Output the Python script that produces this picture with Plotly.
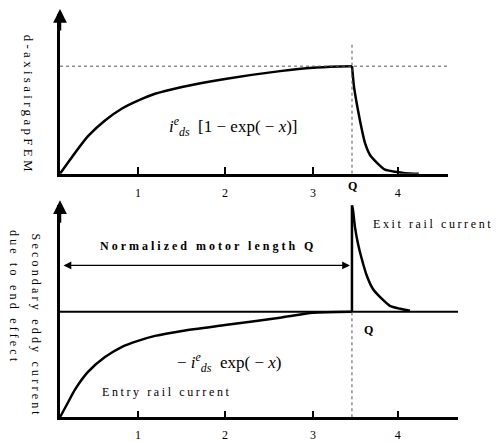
import plotly.graph_objects as go

# The page body adds an 8px margin, so the figure is drawn 8px in from the top-left corner.
OFF = 8
W, H = 504 - OFF, 442 - OFF
FONT = "Liberation Serif"

# ---- data (x in motor-length units, y normalised) ----
Q_POS = 3.337
TICK_X = [0.891, 1.886, 2.891, 3.86]
TICK_TEXT = ["1", "2", "3", "4"]

TOP_RISE_X = [0, 0.171, 0.32, 0.514, 0.709, 0.891, 1.086, 1.394, 1.886, 2.514, 2.891, 3.2, 3.337]
TOP_RISE_Y = [0, 0.193, 0.349, 0.495, 0.606, 0.679, 0.743, 0.807, 0.881, 0.954, 0.986, 0.997, 1.0]

TOP_DECAY_X = [3.337, 3.36, 3.406, 3.451, 3.486, 3.543, 3.623, 3.714, 3.829, 3.943, 4.1]
TOP_DECAY_Y = [1.0, 0.807, 0.587, 0.404, 0.284, 0.174, 0.101, 0.037, 0.018, 0.005, 0.0]

PEAK_LEVEL = 1.0

BOT_ENTRY_X = [0, 0.091, 0.171, 0.32, 0.514, 0.709, 0.891, 1.086, 1.394, 1.886, 2.514, 2.891, 3.337]
BOT_ENTRY_Y = [-1.0, -0.86, -0.738, -0.57, -0.43, -0.332, -0.276, -0.229, -0.182, -0.126, -0.056, -0.009, 0.0]

BOT_EXIT_X = [3.337, 3.349, 3.371, 3.406, 3.451, 3.509, 3.577, 3.68, 3.771, 3.886, 4.0]
BOT_EXIT_Y = [1.009, 0.963, 0.804, 0.645, 0.495, 0.336, 0.215, 0.121, 0.056, 0.028, 0.009]


def px(x):
    return (x - OFF) / W


def py(y):
    return 1 - (y - OFF) / H


fig = go.Figure()

line_k = dict(color="black", width=2.5)
curve_k = dict(color="black", width=2.5, shape="spline", smoothing=0.6)
dot = dict(color="#555555", width=1, dash="dot")

# top panel
fig.add_trace(go.Scatter(x=TOP_RISE_X, y=TOP_RISE_Y, mode="lines", line=curve_k, xaxis="x", yaxis="y"))
fig.add_trace(go.Scatter(x=TOP_DECAY_X, y=TOP_DECAY_Y, mode="lines", line=curve_k, xaxis="x", yaxis="y"))
fig.add_trace(go.Scatter(x=[0, 4.434], y=[PEAK_LEVEL, PEAK_LEVEL], mode="lines", line=dot, xaxis="x", yaxis="y"))
fig.add_trace(go.Scatter(x=[Q_POS, Q_POS], y=[0, 1.22], mode="lines", line=dot, xaxis="x", yaxis="y"))

# bottom panel
fig.add_trace(go.Scatter(x=[0, 4.549], y=[0, 0], mode="lines", line=dict(color="black", width=2), xaxis="x2", yaxis="y2"))
fig.add_trace(go.Scatter(x=BOT_ENTRY_X, y=BOT_ENTRY_Y, mode="lines", line=curve_k, xaxis="x2", yaxis="y2"))
fig.add_trace(go.Scatter(x=[Q_POS, Q_POS], y=[0, BOT_EXIT_Y[0]], mode="lines", line=line_k, xaxis="x2", yaxis="y2"))
fig.add_trace(go.Scatter(x=BOT_EXIT_X, y=BOT_EXIT_Y, mode="lines", line=curve_k, xaxis="x2", yaxis="y2"))
fig.add_trace(go.Scatter(x=[Q_POS, Q_POS], y=[-1, 0], mode="lines", line=dot, xaxis="x2", yaxis="y2"))

axis_common = dict(showgrid=False, zeroline=False, showline=True, linecolor="black", linewidth=2.5)
xtick = dict(tickmode="array", tickvals=TICK_X, ticktext=TICK_TEXT, ticks="inside", ticklen=7,
             tickwidth=1.5, tickcolor="black", tickfont=dict(family=FONT, size=12, color="black"))

fig.update_layout(
    width=W, height=H, margin=dict(l=0, r=0, t=0, b=0),
    paper_bgcolor="white", plot_bgcolor="white", showlegend=False,
    xaxis=dict(domain=[px(60), px(448)], range=[0, 4.434], anchor="y", ticklabelstandoff=6, **xtick, **axis_common),
    yaxis=dict(domain=[py(176), py(14)], range=[0, (176 - 14) / 109], anchor="x",
               showticklabels=False, ticks="", **axis_common),
    xaxis2=dict(domain=[px(60), px(458)], range=[0, 4.549], anchor="y2", ticklabelstandoff=5, **xtick, **axis_common),
    yaxis2=dict(domain=[py(423), py(208)], range=[-1, (316 - 208) / 107], anchor="x2",
                showticklabels=False, ticks="", **axis_common),
)

ann = []
# arrow heads on y axes
for tip in (8, 203):
    ann.append(dict(x=px(60), y=py(tip), xref="paper", yref="paper", text="", showarrow=True,
                    ax=0, ay=24, arrowhead=2, arrowsize=1.1, arrowwidth=2.5, arrowcolor="black"))

# double-headed arrow for motor length
ann.append(dict(x=(350 - 60) / 87.5, y=(316 - 269) / 107, xref="x2", yref="y2",
                ax=(62 - 60) / 87.5, ay=(316 - 269) / 107, axref="x2", ayref="y2",
                text="", showarrow=True, arrowhead=2, arrowside="end+start", arrowsize=1.2,
                arrowwidth=1.3, arrowcolor="black"))


def txt(x, y, s, size=12, angle=0, bold=False, ls=None):
    if ls is not None:
        s = '<span style="letter-spacing:%spx">%s</span>' % (ls, s)
    if bold:
        s = "<b>" + s + "</b>"
    ann.append(dict(x=px(x), y=py(y), xref="paper", yref="paper", text=s, showarrow=False,
                    textangle=angle, xanchor="center", yanchor="middle",
                    font=dict(family=FONT, size=size, color="black")))


txt(28, 106, "d-axisairgapFEM", size=13, angle=90, ls=3.3)
txt(36, 330, "Secondary eddy current", size=12, angle=90, ls=3.2)
txt(14, 301, "due to end effect", size=12, angle=90, ls=3.2)

txt(233, 128, "<i>i</i><sup><i>e</i></sup><sub><i>ds</i></sub>  [1 − exp( − <i>x</i>)]", size=17)
txt(229, 367, "− <i>i</i><sup><i>e</i></sup><sub><i>ds</i></sub>  exp( − <i>x</i>)", size=17)

txt(352, 188, "Q", size=12, bold=True)
txt(368, 335, "Q", size=12, bold=True)
txt(208, 249, "Normalized motor length Q", size=12, bold=True, ls=3)
txt(433, 227, "Exit rail current", size=12, ls=2.6)
txt(166, 397, "Entry rail current", size=12, ls=2.6)

fig.update_layout(annotations=ann)
fig.write_html("out.html")
